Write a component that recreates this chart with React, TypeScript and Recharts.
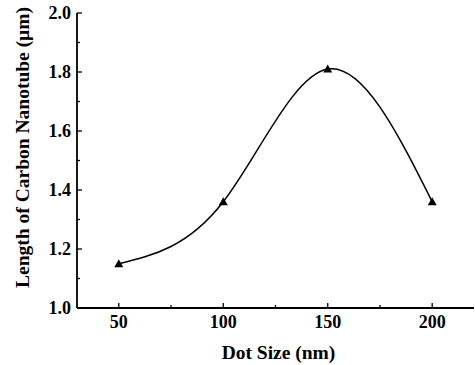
import React from 'react';
import { LineChart, Line, XAxis, YAxis } from 'recharts';

const dotSizes = [50, 100, 150, 200];
const lengths = [1.15, 1.36, 1.81, 1.36];
const xTicks = [50, 75, 100, 125, 150, 175, 200];
const xMajor = [50, 100, 150, 200];
const yTicks = [1.0, 1.1, 1.2, 1.3, 1.4, 1.5, 1.6, 1.7, 1.8, 1.9, 2.0];
const xTitle = 'Dot Size (nm)';
const yTitle = 'Length of Carbon Nanotube (\u03bcm)';

const data = dotSizes.map((d, i) => ({ x: d, y: lengths[i] }));

const FONT = '"Liberation Serif", "Times New Roman", serif';
const MAJ = 5;
const MIN = 3;
const TICK_FS = 18;
const TITLE_FS = 19.5;

const isXMajor = (v: number) => xMajor.includes(v);
const isYMajor = (v: number) => Math.round(v * 10) % 2 === 0;

const BottomTick = (props: any) => {
  const { x, y, payload } = props;
  const major = isXMajor(payload.value);
  return (
    <g>
      <line x1={x} x2={x} y1={y} y2={y - (major ? MAJ : MIN)} stroke="#000" strokeWidth={1.3} />
      {major && (
        <text x={x} y={y + 20} textAnchor="middle" fontFamily={FONT} fontWeight="bold" fontSize={TICK_FS} fill="#000">
          {payload.value}
        </text>
      )}
    </g>
  );
};

const TopTick = (props: any) => {
  const { x, y, payload } = props;
  const major = isXMajor(payload.value);
  return <line x1={x} x2={x} y1={y} y2={y + (major ? MAJ : MIN)} stroke="#000" strokeWidth={1.3} />;
};

const LeftTick = (props: any) => {
  const { x, y, payload } = props;
  const major = isYMajor(payload.value);
  return (
    <g>
      <line x1={x} x2={x + (major ? MAJ : MIN)} y1={y} y2={y} stroke="#000" strokeWidth={1.3} />
      {major && (
        <text x={x - 6} y={y + 6} textAnchor="end" fontFamily={FONT} fontWeight="bold" fontSize={TICK_FS} fill="#000">
          {Number(payload.value).toFixed(1)}
        </text>
      )}
    </g>
  );
};

const RightTick = (props: any) => {
  const { x, y, payload } = props;
  const major = isYMajor(payload.value);
  return <line x1={x} x2={x - (major ? MAJ : MIN)} y1={y} y2={y} stroke="#000" strokeWidth={1.3} />;
};

const Triangle = (props: any) => {
  const { cx, cy } = props;
  if (cx == null || cy == null) return null;
  const s = 4.5;
  return <path d={`M${cx},${cy - s} L${cx + s},${cy + s * 0.75} L${cx - s},${cy + s * 0.75} Z`} fill="#000" stroke="none" />;
};

const YTitle = (props: any) => {
  const vb = props.viewBox || {};
  const cx = 29;
  const cy = (vb.y ?? 13) + (vb.height ?? 295) / 2 - 13;
  return (
    <text
      x={cx}
      y={cy}
      transform={`rotate(-90 ${cx} ${cy})`}
      textAnchor="middle"
      fontFamily={FONT}
      fontWeight="bold"
      fontSize={TITLE_FS}
      fill="#000"
    >
      {yTitle}
    </text>
  );
};

export default function App() {
  return (
    <div style={{ position: 'absolute', left: 0, top: 0, width: 475, height: 365, background: '#fff' }}>
      <LineChart width={475} height={365} data={data} margin={{ top: 13, right: 1, left: 0, bottom: 0 }}>
        <XAxis
          xAxisId="b"
          dataKey="x"
          type="number"
          domain={[30, 220]}
          ticks={xTicks}
          interval={0}
          height={57}
          tickSize={0}
          tickMargin={0}
          tickLine={false}
          axisLine={{ stroke: '#000', strokeWidth: 1.8 }}
          tick={<BottomTick />}
          label={{ value: xTitle, position: 'insideBottom', offset: 6, dx: 3, style: { fontFamily: FONT, fontWeight: 'bold', fontSize: TITLE_FS, fill: '#000' } }}
        />
        <XAxis
          xAxisId="t"
          dataKey="x"
          type="number"
          orientation="top"
          domain={[30, 220]}
          ticks={xTicks}
          interval={0}
          height={0}
          tickSize={0}
          tickMargin={0}
          tickLine={false}
          axisLine={{ stroke: '#000', strokeWidth: 1.8 }}
          tick={<TopTick />}
        />
        <YAxis
          yAxisId="l"
          type="number"
          domain={[1, 2]}
          ticks={yTicks}
          interval={0}
          width={77}
          tickSize={0}
          tickMargin={0}
          tickLine={false}
          axisLine={{ stroke: '#000', strokeWidth: 1.8 }}
          tick={<LeftTick />}
          label={<YTitle />}
        />
        <YAxis
          yAxisId="r"
          orientation="right"
          type="number"
          domain={[1, 2]}
          ticks={yTicks}
          interval={0}
          width={0}
          tickSize={0}
          tickMargin={0}
          tickLine={false}
          axisLine={{ stroke: '#000', strokeWidth: 1.8 }}
          tick={<RightTick />}
        />
        <Line
          xAxisId="b"
          yAxisId="l"
          dataKey="y"
          type="natural"
          stroke="#000"
          strokeWidth={1.5}
          dot={<Triangle />}
          activeDot={false}
          isAnimationActive={false}
        />
      </LineChart>
    </div>
  );
}
